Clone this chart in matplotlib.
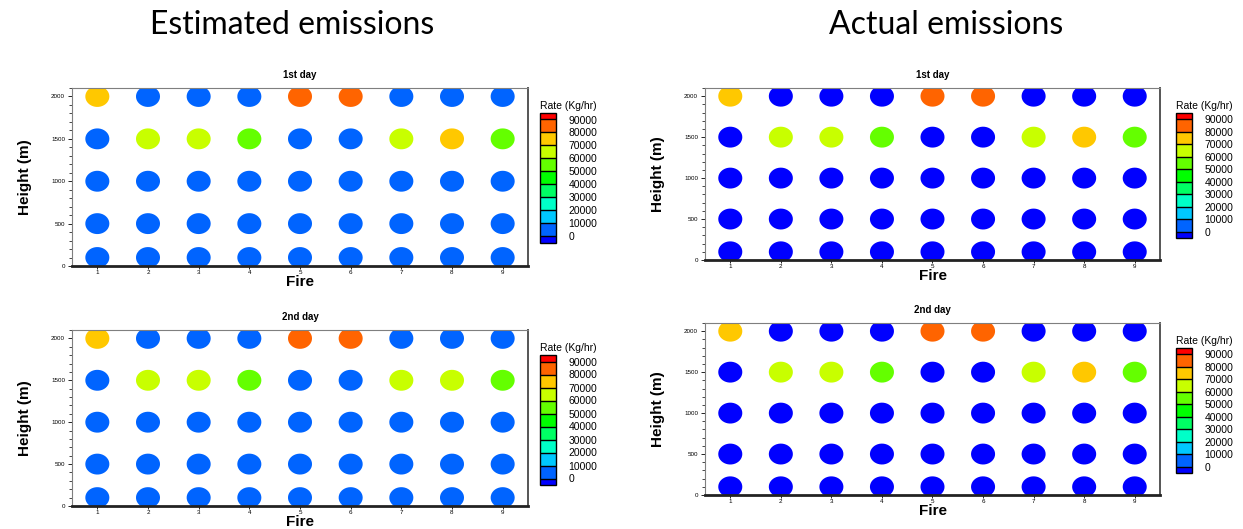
import numpy as np
import matplotlib.pyplot as plt
from matplotlib.colors import ListedColormap, BoundaryNorm
from matplotlib.cm import ScalarMappable

# data
fires = [1, 2, 3, 4, 5, 6, 7, 8, 9]
heights = [100, 500, 1000, 1500, 2000]

# rows follow heights (100 m .. 2000 m), columns follow fires 1..9
est_day1 = [[5000] * 9,
            [5000] * 9,
            [5000] * 9,
            [5000, 65000, 65000, 55000, 5000, 5000, 65000, 75000, 55000],
            [75000, 5000, 5000, 5000, 85000, 85000, 5000, 5000, 5000]]
est_day2 = [[5000] * 9,
            [5000] * 9,
            [5000] * 9,
            [5000, 65000, 65000, 55000, 5000, 5000, 65000, 65000, 55000],
            [75000, 5000, 5000, 5000, 85000, 85000, 5000, 5000, 5000]]
act_day1 = [[0] * 9,
            [0] * 9,
            [0] * 9,
            [0, 65000, 65000, 55000, 0, 0, 65000, 75000, 55000],
            [75000, 0, 0, 0, 85000, 85000, 0, 0, 0]]
act_day2 = [[0] * 9,
            [0] * 9,
            [0] * 9,
            [0, 65000, 65000, 55000, 0, 0, 65000, 75000, 55000],
            [75000, 0, 0, 0, 85000, 85000, 0, 0, 0]]

levels = [0, 10000, 20000, 30000, 40000, 50000, 60000, 70000, 80000, 90000]
colours = ['#0000ff', '#0064ff', '#00c8ff', '#00ffc8', '#00ff64', '#00ff00',
           '#64ff00', '#c8ff00', '#ffc800', '#ff6400', '#ff0000']
cmap = ListedColormap(colours)
norm = BoundaryNorm(levels, ncolors=len(colours), extend='both')

# slightly wide dots, like the original
t = np.linspace(0, 2 * np.pi, 40)
dot = np.column_stack([np.cos(t), 0.87 * np.sin(t)])

W, H = 1243, 529
fig = plt.figure(figsize=(W / 100, H / 100), dpi=100)
plt.rcParams['font.family'] = ['Liberation Sans', 'DejaVu Sans']


def box(x0, y0, x1, y1):
    return [x0 / W, 1 - y1 / H, (x1 - x0) / W, (y1 - y0) / H]


def panel(ax_box, cb_box, title, values, ms):
    ax = fig.add_axes(box(*ax_box))
    fx, hy = np.meshgrid(fires, heights)
    vals = np.array(values)
    idx = np.searchsorted(levels, vals.ravel(), side='left')  # values on a level go to the bin below
    ax.scatter(fx.ravel(), hy.ravel(), s=ms, c=cmap(idx), marker=dot, linewidths=0)
    ax.set_xlim(0.5, 9.5)
    ax.set_ylim(0, 2100)
    ax.set_xticks(fires)
    ax.set_yticks([0, 500, 1000, 1500, 2000])
    ax.set_yticks(np.arange(0, 2101, 100), minor=True)
    ax.tick_params(axis='both', labelsize=4.5, length=3, width=0.6, pad=2)
    ax.tick_params(axis='y', which='minor', length=2, width=0.5)
    ax.tick_params(axis='x', length=2, pad=1)
    for s in ['top', 'left']:
        ax.spines[s].set_color('#7f7f7f')
        ax.spines[s].set_linewidth(0.8)
    ax.spines['right'].set_color('#555555')
    ax.spines['right'].set_linewidth(1.4)
    ax.spines['bottom'].set_color('#222222')
    ax.spines['bottom'].set_linewidth(2)
    ax.set_title(title, fontsize=7, fontweight='bold', pad=7)
    ax.set_xlabel('Fire', fontsize=11, fontweight='bold', labelpad=0)
    ax.set_ylabel('Height (m)', fontsize=11, fontweight='bold', labelpad=14)

    cax = fig.add_axes(box(*cb_box))
    cb = fig.colorbar(ScalarMappable(norm=norm, cmap=cmap), cax=cax, extend='both',
                      extendrect=True, extendfrac=0.5 / 9, drawedges=True, ticks=levels)
    cb.outline.set_linewidth(1)
    cb.dividers.set_linewidth(1)
    cb.ax.tick_params(length=0, labelsize=7.5, pad=9)
    cb.ax.set_yticklabels([str(v) for v in levels])
    cax.text(0, 1.075, 'Rate (Kg/hr)', transform=cax.transAxes, fontsize=7.5,
             ha='left', va='bottom')
    return ax


panel((72, 88, 528, 266), (540, 113, 556, 243), '1st day', est_day1, 300)
panel((72, 330, 528, 506), (540, 355, 556, 485), '2nd day', est_day2, 300)
panel((705, 88, 1160, 260), (1176, 113, 1192, 238), '1st day', act_day1, 300)
panel((705, 323, 1160, 495), (1176, 348, 1192, 473), '2nd day', act_day2, 300)

fig.text(292 / W, 1 - 25 / H, 'Estimated emissions', fontsize=23, family='Lato',
         ha='center', va='center')
fig.text(946 / W, 1 - 25 / H, 'Actual emissions', fontsize=23, family='Lato',
         ha='center', va='center')

fig.savefig('out.png', dpi=100)
